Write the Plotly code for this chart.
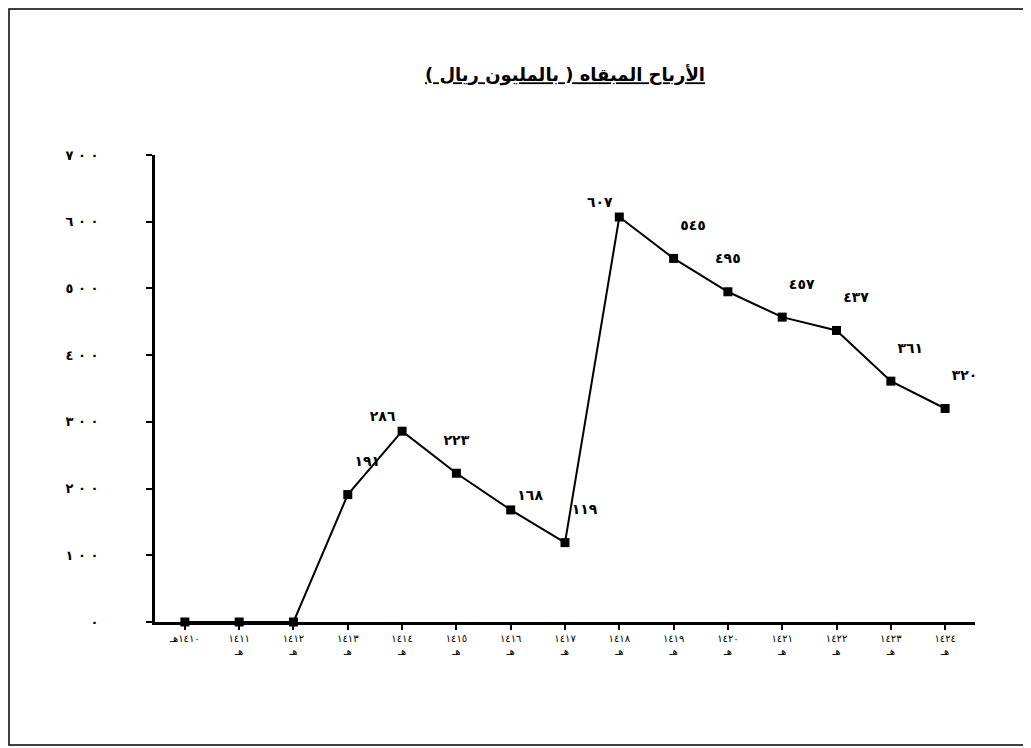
import plotly.graph_objects as go

categories = ["١٤١٠هـ", "١٤١١<br>هـ", "١٤١٢<br>هـ", "١٤١٣<br>هـ", "١٤١٤<br>هـ", "١٤١٥<br>هـ",
              "١٤١٦<br>هـ", "١٤١٧<br>هـ", "١٤١٨<br>هـ", "١٤١٩<br>هـ", "١٤٢٠<br>هـ", "١٤٢١<br>هـ",
              "١٤٢٢<br>هـ", "١٤٢٣<br>هـ", "١٤٢٤<br>هـ"]
values = [0, 0, 0, 191, 286, 223, 168, 119, 607, 545, 495, 457, 437, 361, 320]
value_labels = ["", "", "", "١٩١", "٢٨٦", "٢٢٣", "١٦٨", "١١٩", "٦٠٧", "٥٤٥", "٤٩٥", "٤٥٧", "٤٣٧", "٣٦١", "٣٢٠"]
label_raise = [False, False, False, True, False, True, False, True, False, True, True, True, True, True, True]
label_pos = ["top center", "top center", "top center", "top right", "top left", "top center",
             "top right", "top right", "top left", "top right", "top center", "top right",
             "top right", "top right", "top right"]
y_ticks = [0, 100, 200, 300, 400, 500, 600, 700]
y_tick_labels = ["٠", "١\u00a0٠\u00a0٠", "٢\u00a0٠\u00a0٠", "٣\u00a0٠\u00a0٠", "٤\u00a0٠\u00a0٠",
                 "٥\u00a0٠\u00a0٠", "٦\u00a0٠\u00a0٠", "٧\u00a0٠\u00a0٠"]
title = "الأرباح المبقاه ( بالمليون ريال )"

FONT = "DejaVu Sans"
W, H = 1031, 748
OFF = 8  # page body margin
ml, mr, mt, mb = 155 - OFF, W - (975 - OFF), 155 - OFF, H - (622 - OFF)

texts = [t + ("<br> " if r and t else "") for t, r in zip(value_labels, label_raise)]

fig = go.Figure()
fig.add_trace(go.Scatter(
    x=list(range(len(categories))), y=values,
    mode="lines+markers+text",
    line=dict(color="black", width=2),
    marker=dict(symbol="square", size=9, color="black"),
    text=texts, textposition=label_pos,
    textfont=dict(family=FONT, size=14, color="black", weight="bold"),
    cliponaxis=False, showlegend=False,
))

pw = W - ml - mr
ph = H - mt - mb
bx0, bx1, by0, by1 = 1, 1017, 1, 737
fig.add_shape(type="rect", xref="paper", yref="paper",
              x0=(bx0 - ml) / pw, x1=(bx1 - ml) / pw,
              y0=(H - mb - by1) / ph, y1=(H - mb - by0) / ph,
              line=dict(color="black", width=1.5))

fig.update_layout(
    width=W, height=H,
    margin=dict(l=ml, r=mr, t=mt, b=mb),
    paper_bgcolor="white", plot_bgcolor="white",
    font=dict(family=FONT, color="black"),
    title=dict(text="<b><u>" + title + "</u></b>", x=(565 - OFF) / W, xanchor="center",
               y=1 - (75 - OFF) / H, yanchor="middle", font=dict(family=FONT, size=18, color="black")),
    xaxis=dict(
        tickmode="array", tickvals=list(range(len(categories))), ticktext=categories,
        range=[-0.55, 14.55], showgrid=False, zeroline=False,
        showline=True, linecolor="black", linewidth=3,
        ticks="outside", ticklen=5, tickwidth=2, tickcolor="black",
        tickfont=dict(family=FONT, size=10, color="black"),
    ),
    yaxis=dict(
        tickmode="array", tickvals=y_ticks, ticktext=y_tick_labels,
        range=[0, 700], showgrid=False, zeroline=False,
        showline=True, linecolor="black", linewidth=3,
        ticks="outside", ticklen=6, tickwidth=2, tickcolor="black",
        ticklabelstandoff=45,
        tickfont=dict(family=FONT, size=13, color="black", weight="bold"),
    ),
)

fig.write_html("out.html")
